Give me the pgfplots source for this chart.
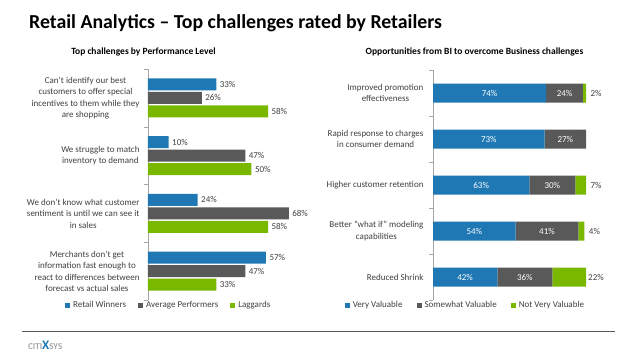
\documentclass[border=0pt]{standalone}
\usepackage{pgfplots}
\usepackage{pgfplotstable}
\pgfplotsset{compat=1.18}
\usepackage{fontspec}
\setmainfont{Carlito}
\definecolor{cblue}{HTML}{1F78B4}
\definecolor{cgray}{HTML}{595959}
\definecolor{cgreen}{HTML}{7AB800}
\definecolor{ctext}{HTML}{404040}
% right chart data: v = value, y = category, f = shift factor, c = extra shift (pt), w = percent white text
\pgfplotstableread{
v  y f   c  w
74 0 0   0  100
73 1 0   0  100
63 2 0   0  100
54 3 0   0  100
42 4 0   0  100
}\tvery
\pgfplotstableread{
v  y f   c  w
24 0 0   0  100
27 1 0   0  100
30 2 0   0  100
41 3 0   0  100
36 4 0   0  100
}\tsome
\pgfplotstableread{
v  y f    c  w
2  0 -0.5 10 0
0  1 -0.5 10 0
7  2 -0.5 10 0
4  3 -0.5 10 0
22 4 -0.5 10 0
}\tnot
\begin{document}
\begin{tikzpicture}
\path[use as bounding box] (0,0) rectangle (638pt,359pt);
\fill[white] (0,0) rectangle (638pt,359pt);
% main title
\node[anchor=base west, inner sep=0pt, font=\fontsize{19.8}{22}\selectfont\bfseries] at (29pt,330pt) {Retail Analytics – Top challenges rated by Retailers};
\node[anchor=base, inner sep=0pt, font=\fontsize{9.5}{11}\selectfont\bfseries] at (143.5pt,304pt) {Top challenges by Performance Level};
\node[anchor=base, inner sep=0pt, font=\fontsize{9.5}{11}\selectfont\bfseries] at (474.5pt,304pt) {Opportunities from BI to overcome Business challenges};
% left chart
\begin{axis}[
  at={(148pt,59pt)}, anchor=south west,
  scale only axis, width=207pt, height=231pt,
  xbar, bar width=12pt,
  xmin=0, xmax=100, ymin=-0.5, ymax=3.5, y dir=reverse,
  axis x line=none, axis y line*=left,
  axis line style={draw=gray!70},
  /pgf/number format/assume math mode=true,
  ytick={0,1,2,3},
  yticklabels={{Can’t identify our best\\customers to offer special\\incentives to them while they\\are shopping},
    {We struggle to match\\inventory to demand},
    {We don’t know what customer\\sentiment is until we can see it\\in sales},
    {Merchants don’t get\\information fast enough to\\react to differences between\\forecast vs actual sales}},
  yticklabel style={align=center, font=\fontsize{9}{11.5}\selectfont, text=ctext, xshift=-5pt},
  major tick length=0pt,
  minor ytick={-0.5,0.5,1.5,2.5,3.5},
  minor tick length=4pt, tick align=outside, tick style={draw=gray!70},
  point meta=x,
  nodes near coords={\pgfmathprintnumber{\pgfplotspointmeta}\%},
  nodes near coords style={font=\fontsize{9}{10}\selectfont, text=ctext},
  legend style={at={(axis description cs:0.1,0.012)}, anchor=north, draw=none, fill=none,
    legend columns=-1, font=\fontsize{9}{10}\selectfont, text=ctext,
    /tikz/every odd column/.append style={column sep=1pt},
    /tikz/every even column/.append style={column sep=10pt}},
  legend image code/.code={\fill[#1] (0pt,-2.5pt) rectangle (5pt,2.5pt);},
]
\addplot[fill=cblue, draw=none, bar shift=13.5pt] coordinates {(33,0) (10,1) (24,2) (57,3)};
\addplot[fill=cgray, draw=none, bar shift=0pt] coordinates {(26,0) (47,1) (68,2) (47,3)};
\addplot[fill=cgreen, draw=none, bar shift=-13.5pt] coordinates {(58,0) (50,1) (58,2) (33,3)};
\legend{Retail Winners, Average Performers, Laggards}
\end{axis}
% right chart
\begin{axis}[
  at={(433pt,59pt)}, anchor=south west,
  scale only axis, width=153pt, height=230pt,
  xbar stacked, bar width=19pt,
  xmin=0, xmax=100, ymin=-0.5, ymax=4.5, y dir=reverse,
  axis x line=none, axis y line*=left,
  axis line style={draw=gray!70},
  /pgf/number format/assume math mode=true,
  ytick={0,1,2,3,4},
  yticklabels={{Improved promotion\\effectiveness},
    {Rapid response to charges\\in consumer demand},
    {Higher customer retention},
    {Better "what if" modeling\\capabilities},
    {Reduced Shrink}},
  yticklabel style={align=center, font=\fontsize{9}{11.5}\selectfont, text=ctext, xshift=-6pt},
  major tick length=0pt,
  minor ytick={-0.5,0.5,1.5,2.5,3.5,4.5},
  minor tick length=4pt, tick align=outside, tick style={draw=gray!70},
  visualization depends on={\thisrow{v} \as \vv},
  visualization depends on={\thisrow{f} \as \ff},
  visualization depends on={\thisrow{c} \as \cc},
  visualization depends on={\thisrow{w} \as \ww},
  nodes near coords={\pgfmathprintnumber{\vv}\%},
  every node near coord/.append style={font=\fontsize{9}{10}\selectfont, anchor=center, text=white!\ww!ctext, xshift={-1.53pt*\ff*\vv + \cc pt}},
  legend style={at={(axis description cs:0.212,0.012)}, anchor=north, draw=none, fill=none,
    legend columns=-1, font=\fontsize{9}{10}\selectfont, text=ctext,
    /tikz/every odd column/.append style={column sep=1pt},
    /tikz/every even column/.append style={column sep=12pt}},
  legend image code/.code={\fill[#1] (0pt,-2.5pt) rectangle (5pt,2.5pt);},
]
\addplot[fill=cblue, draw=none] table[x=v, y=y] {\tvery};
\addplot[fill=cgray, draw=none] table[x=v, y=y] {\tsome};
\addplot[fill=cgreen, draw=none] table[x=v, y=y] {\tnot};
\legend{Very Valuable, Somewhat Valuable, Not Very Valuable}
\end{axis}
% footer
\draw[cgray, line width=0.8pt] (22pt,28pt) -- (615pt,28pt);
\node[anchor=west, inner sep=0pt, font=\fontsize{9}{10}\selectfont\bfseries] at (28pt,14pt) {\textcolor{gray!70}{CITI}\textcolor{cblue}{\fontsize{13}{13}\selectfont X}\textcolor{gray!70}{SYS}};
\end{tikzpicture}
\end{document}
